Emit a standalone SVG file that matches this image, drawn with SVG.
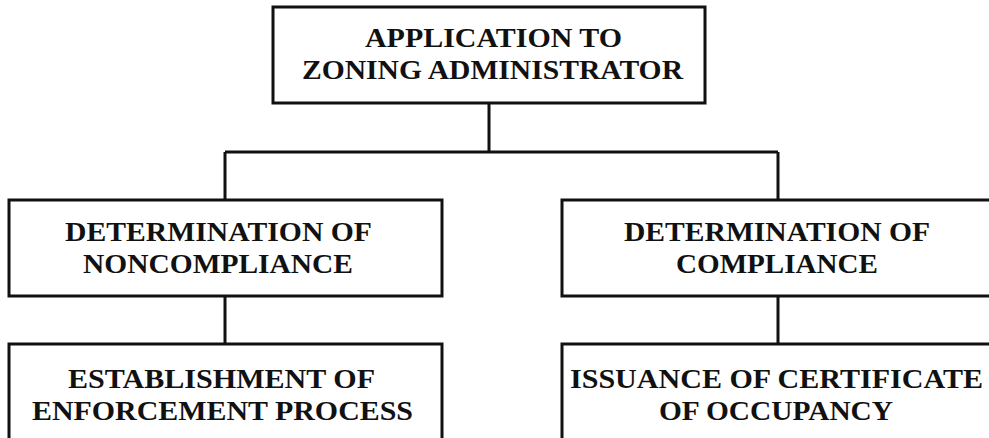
<svg xmlns="http://www.w3.org/2000/svg" width="989" height="438" viewBox="0 0 989 438">
<style>
.box{fill:#fff;stroke:#111;stroke-width:3}
.con{fill:none;stroke:#111;stroke-width:3}
text{font-family:"Liberation Serif","Times New Roman",serif;font-weight:bold;font-size:28px;fill:#111}
</style>
<rect width="989" height="438" fill="#fff"/>
<g id="connectors">
<path class="con" d="M489 103V152M225 152H778M225 152V200M778 152V200M225 296V344M778 296V344"/>
</g>
<g id="application">
<rect class="box" x="273" y="7" width="432" height="96"/>
<text x="365" y="47" textLength="257" lengthAdjust="spacingAndGlyphs">APPLICATION TO</text>
<text x="302" y="79" textLength="381" lengthAdjust="spacingAndGlyphs">ZONING ADMINISTRATOR</text>
</g>
<g id="noncompliance">
<rect class="box" x="9" y="200" width="433" height="96"/>
<text x="65" y="241" textLength="307" lengthAdjust="spacingAndGlyphs">DETERMINATION OF</text>
<text x="83" y="273" textLength="270" lengthAdjust="spacingAndGlyphs">NONCOMPLIANCE</text>
</g>
<g id="compliance">
<rect class="box" x="562" y="200" width="440" height="96"/>
<text x="624" y="241" textLength="306" lengthAdjust="spacingAndGlyphs">DETERMINATION OF</text>
<text x="676" y="273" textLength="202" lengthAdjust="spacingAndGlyphs">COMPLIANCE</text>
</g>
<g id="enforcement">
<rect class="box" x="9" y="344" width="433" height="110"/>
<text x="68" y="388" textLength="307" lengthAdjust="spacingAndGlyphs">ESTABLISHMENT OF</text>
<text x="32" y="420" textLength="381" lengthAdjust="spacingAndGlyphs">ENFORCEMENT PROCESS</text>
</g>
<g id="occupancy">
<rect class="box" x="562" y="344" width="440" height="110"/>
<text x="570" y="388" textLength="413" lengthAdjust="spacingAndGlyphs">ISSUANCE OF CERTIFICATE</text>
<text x="659" y="420" textLength="234" lengthAdjust="spacingAndGlyphs">OF OCCUPANCY</text>
</g>
</svg>
